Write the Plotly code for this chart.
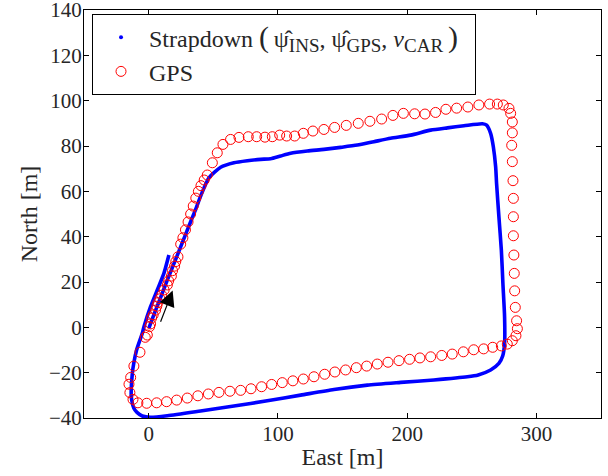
import plotly.graph_objects as go

# GPS fixes (East, North) [m]
gps_east = [0.8, 2.3, 5.4, 7.2, 10.1, 14.5, 17.6, 20.1, 22.7, 24.8, 26.5, 28.5, 30.5, 32.5, 34.5,
            36.5, 38.5, 40.5, 43.0,
            45.4, 49.3, 53.1, 57.5, 63.4, 69.9, 77.1, 83.6, 90.0, 95.7, 101.4, 106.8, 113.0, 119.7,
            127.1, 135.6, 143.9, 152.9, 162.2, 171.2, 180.3, 189.0, 197.1, 205.8, 213.8, 222.0,
            230.0, 238.3, 247.0, 255.5, 263.8, 269.8, 274.4, 278.8, 280.1, 281.4, 281.4, 280.9,
            281.4, 281.9, 282.2, 282.2, 282.2, 282.6, 282.9, 283.2, 283.7, 284.7, 285.3, 284.2,
            281.4, 277.5, 272.9, 266.2, 259.2, 251.5, 243.5, 234.9, 226.8, 218.2, 209.9, 201.9,
            193.7, 185.2, 176.9, 168.7, 160.7, 152.4, 144.1, 136.2, 127.9, 119.7, 111.6, 103.4,
            95.2, 87.4, 79.2, 71.2, 62.9, 54.4, 46.2, 38.1, 29.9, 21.7, 13.9, 6.2, -1.5, -8.3,
            -12.1, -14.5, -15.2, -13.9, -11.4, -6.7, -2.6, -1.0,
            1.5, 3.5, 6.3, 8.7, 12.0, 15.5, 18.5, 21.0]
gps_north = [0.3, 4.1, 7.6, 10.9, 14.2, 18.7, 22.6, 27.0, 31.1, 36.7, 39.5, 43.0, 46.5, 50.0, 53.5,
             57.0, 60.0, 62.5, 65.0,
             67.2, 72.6, 77.0, 80.7, 82.9, 83.8, 84.1, 84.1, 83.9, 84.1, 84.8, 84.4, 84.4, 85.6,
             86.6, 87.3, 88.2, 89.1, 90.0, 90.9, 91.9, 93.5, 94.4, 94.2, 94.1, 94.8,
             96.2, 96.7, 97.2, 98.1, 98.5, 98.5, 98.1, 96.6, 94.4, 90.6, 85.8, 80.3,
             73.1, 64.7, 56.9, 48.8, 40.4, 31.9, 23.8, 16.1, 8.8, 2.9, -0.6, -3.7,
             -5.9, -7.4, -8.2, -8.8, -9.5, -9.9, -10.8, -11.8, -12.4, -13.0, -13.5, -14.1,
             -14.7, -15.4, -16.2, -17.1, -17.8, -18.8, -19.7, -20.7, -21.8, -22.8, -23.6, -24.4,
             -25.2, -26.2, -27.1, -27.8, -28.2, -28.7, -29.4, -30.2, -31.2, -32.1, -32.8, -33.3, -33.5, -33.3,
             -31.8, -28.8, -25.1, -22.1, -17.1, -11.0, -4.4, -3.4,
             1.5, 5.5, 9.3, 12.6, 16.5, 20.5, 25.0, 29.0]

# Strapdown solution (East, North) [m]
sd_east = [0.2, 4.0, 8.0, 14.5, 22.0, 29.9, 36.0, 41.0, 46.7, 55.7, 66.0, 76.4, 86.7, 94.4, 102.1,
           109.9, 122.8, 135.6, 148.5, 161.5, 174.3, 187.2, 202.7, 218.2, 231.1, 244.0, 258.2,
           261.5, 264.6, 266.7, 268.5, 269.2, 271.0, 272.9, 274.1, 275.4, 275.4, 274.0, 271.0,
           264.6, 255.0, 246.6, 220.7, 195.0, 169.2, 143.4, 117.6, 91.8, 66.0, 40.2, 14.5, 1.5,
           -4.9, -9.0, -11.4, -13.4, -12.6, -11.4, -9.3, -4.9, -3.6, 1.5, 6.7, 11.8, 15.7]
sd_north = [-0.4, 5.5, 11.3, 20.9, 31.5, 42.9, 51.5, 59.0, 66.0, 70.6, 72.6, 73.5, 74.1, 74.4, 75.6,
            76.8, 77.8, 78.5, 79.4, 80.4, 81.9, 83.4, 84.8, 87.0, 88.0, 88.9, 89.8,
            89.2, 85.6, 79.7, 70.8, 63.5, 48.8, 34.1, 19.4, 4.7, -7.1, -12.5, -15.9,
            -18.8, -21.0, -21.8, -23.2, -24.3, -25.5, -27.4, -29.9, -32.4, -34.7, -36.9, -39.0, -39.7,
            -39.1, -37.5, -35.7, -30.6, -20.3, -15.5, -10.0, -2.6, 0.3, 9.1, 16.5, 23.8, 31.9]

# direction arrow (tail -> tip) [m]
arrow_tail = [8.8, 1.8]
arrow_tip = [18.6, 16.2]

x_ticks = [0, 100, 200, 300]
y_ticks = [-40, -20, 0, 20, 40, 60, 80, 100, 120, 140]

FONT = "Liberation Serif"
TXT = "#262626"


def sub(t):
    return "<sub><span style='font-size:19px'>" + t + "</span></sub>"


strap_label = ("Strapdown <span style='font-size:30px'>(</span>\u2009ψ\u0302" + sub("INS") + ", "
               "ψ\u0302" + sub("GPS") + ", <i>v</i>" + sub("CAR")
               + "\u2009<span style='font-size:30px'>)</span>\u00a0\u00a0")

fig = go.Figure()
fig.add_trace(go.Scatter(x=sd_east, y=sd_north, mode="lines",
                         line=dict(color="#0000ff", width=3.6, shape="spline", smoothing=0.6),
                         showlegend=False, hoverinfo="skip"))
fig.add_trace(go.Scatter(x=[None], y=[None], mode="markers",
                         marker=dict(color="#0000ff", size=4),
                         name=strap_label))
fig.add_trace(go.Scatter(x=gps_east, y=gps_north, mode="markers",
                         marker=dict(symbol="circle-open", size=10, color="#ff0000",
                                     line=dict(width=1, color="#ff0000")),
                         name="GPS"))

fig.add_annotation(x=arrow_tip[0], y=arrow_tip[1], ax=arrow_tail[0], ay=arrow_tail[1],
                   xref="x", yref="y", axref="x", ayref="y", text="",
                   showarrow=True, arrowhead=2, arrowsize=2.6, arrowwidth=1.2, arrowcolor="black")

axis_common = dict(showline=True, linecolor="black", linewidth=1, mirror="ticks",
                   ticks="inside", ticklen=5, tickcolor="black", showgrid=False, zeroline=False,
                   automargin=False, ticklabeloverflow="allow",
                   tickfont=dict(family=FONT, size=21, color=TXT))

fig.update_xaxes(range=[-50, 350], tickvals=x_ticks, ticklabelstandoff=-3,
                 title=dict(text="East [m]", font=dict(family=FONT, size=24, color=TXT), standoff=2),
                 **axis_common)
fig.update_yaxes(range=[-40, 140], tickvals=y_ticks, ticklabelstandoff=-3,
                 title=dict(text="North [m]", font=dict(family=FONT, size=24, color=TXT), standoff=4),
                 **axis_common)

fig.update_layout(
    width=608, height=476,
    margin=dict(l=84, r=7, t=10, b=58),
    paper_bgcolor="white", plot_bgcolor="white",
    font=dict(family=FONT, size=21, color=TXT),
    legend=dict(x=0.0155, y=0.99, xanchor="left", yanchor="top",
                bgcolor="white", bordercolor="black", borderwidth=1,
                font=dict(family=FONT, size=24, color=TXT),
                itemwidth=46),
)

fig.write_html("out.html", config={"displayModeBar": False},
               post_script="document.body.style.margin='0';document.body.style.padding='0';")
